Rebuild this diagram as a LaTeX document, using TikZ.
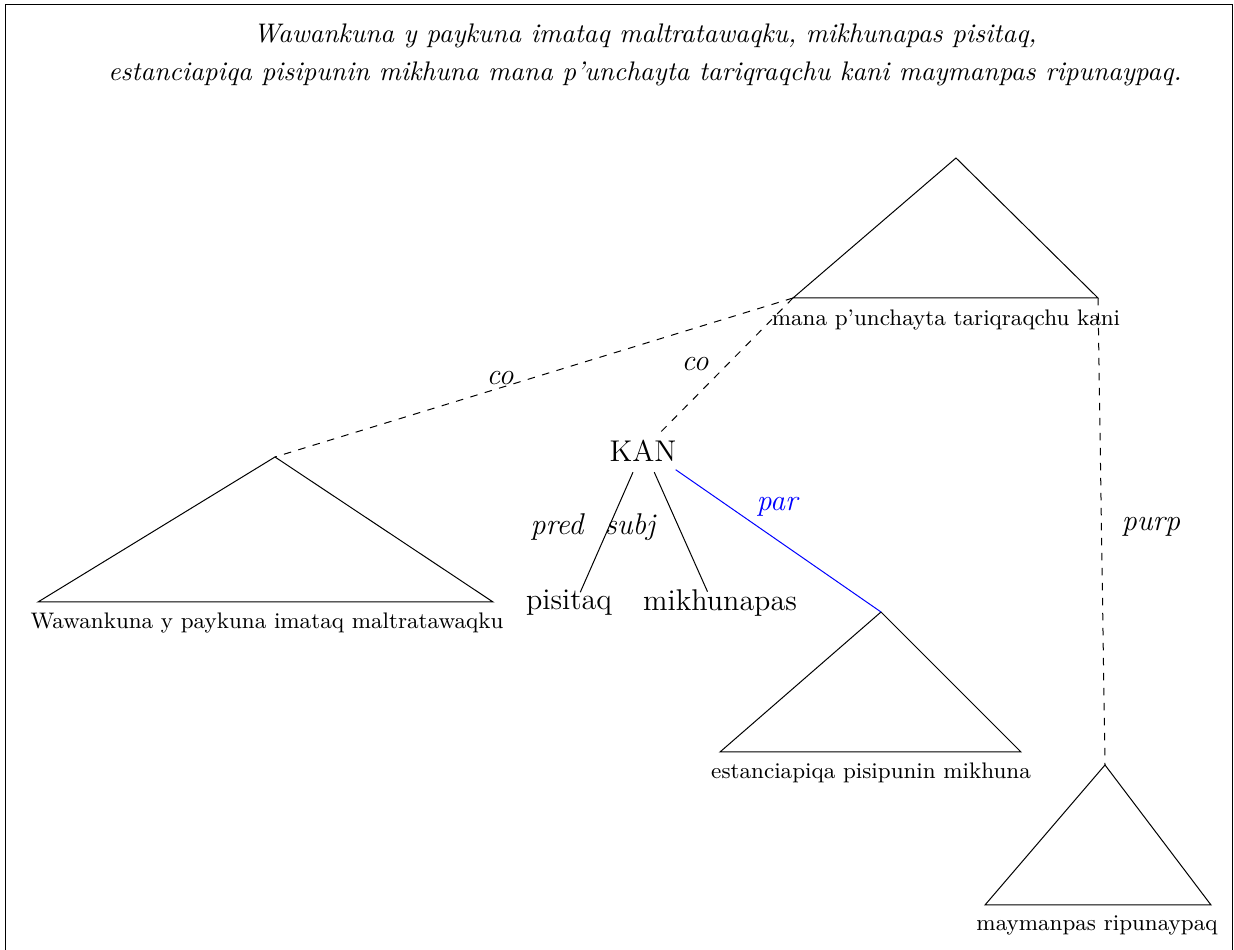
\documentclass[tikz,border=0pt]{standalone}
\usepackage{tikz}
\usetikzlibrary{positioning}
\tikzset{
  word/.style={font=\large, inner sep=2pt},
  rooflbl/.style={font=\small, inner sep=1pt},
  rel/.style={font=\large\itshape, inner sep=1pt},
  dep/.style={draw=black, line width=0.4pt},
  codep/.style={dep, dashed},
  pardep/.style={dep, draw=blue},
  roof/.style={draw=black, line width=0.4pt},
}

\begin{document}
\begin{tikzpicture}[x=0.4pt,y=-0.4pt]
  \useasboundingbox (0,0) rectangle (1234,950);
  \draw[line width=0.4pt] (5,950) -- (5,5) -- (1232,5) -- (1232,950);
  % sentence
  \node[font=\fontsize{10.75pt}{13pt}\selectfont\itshape, align=center] (sent) at (645,55) {Wawankuna y paykuna imataq maltratawaqku, mikhunapas pisitaq,\\[2.5pt] estanciapiqa pisipunin mikhuna mana p'unchayta tariqraqchu kani maymanpas ripunaypaq.};
  % roofs
  \coordinate (kaniT) at (956,158); \coordinate (kaniL) at (793,298); \coordinate (kaniR) at (1098,298);
  \coordinate (wawaT) at (275,457); \coordinate (wawaL) at (38,602); \coordinate (wawaR) at (493,602);
  \coordinate (estaT) at (881,612); \coordinate (estaL) at (720,752); \coordinate (estaR) at (1021,752);
  \coordinate (mayT) at (1105,765); \coordinate (mayL) at (985,905); \coordinate (mayR) at (1211,905);
  \foreach \r in {kani,wawa,esta,may}{\draw[roof] (\r T) -- (\r L) -- (\r R) -- cycle;}
  \node[rooflbl] (kani) at (946,320) {mana p'unchayta tariqraqchu kani};
  \node[rooflbl] (wawa) at (267,623) {Wawankuna y paykuna imataq maltratawaqku};
  \node[rooflbl] (esta) at (871,773) {estanciapiqa pisipunin mikhuna};
  \node[rooflbl] (may) at (1097,925) {maymanpas ripunaypaq};
  % words
  \node[word] (kan) at (643,451) {KAN};
  \node[word] (pisi) at (569,603) {pisitaq};
  \node[word] (mikh) at (720,603) {mikhunapas};
  % dependencies
  \draw[codep] (kaniL) -- (wawaT);
  \draw[codep] (kaniL) -- ([xshift=7pt,yshift=1pt]kan.north);
  \draw[codep] (kaniR) -- (mayT);
  \draw[dep] ([xshift=-4pt,yshift=-2pt]kan.south) -- ([xshift=4.5pt,yshift=-3pt]pisi.north);
  \draw[dep] ([xshift=4.5pt,yshift=-2pt]kan.south) -- ([xshift=-5pt,yshift=-3pt]mikh.north);
  \draw[pardep] ([xshift=-2.5pt,yshift=-1pt]kan.south east) -- (estaT);
  \node[rel] (co1) at (500,378) {co};
  \node[rel] (co2) at (695,364) {co};
  \node[rel] (pred) at (557,527) {pred};
  \node[rel] (subj) at (630,527) {subj};
  \node[rel, text=blue] (par) at (777,507) {par};
  \node[rel] (purp) at (1151,527) {purp};
\end{tikzpicture}
\end{document}
